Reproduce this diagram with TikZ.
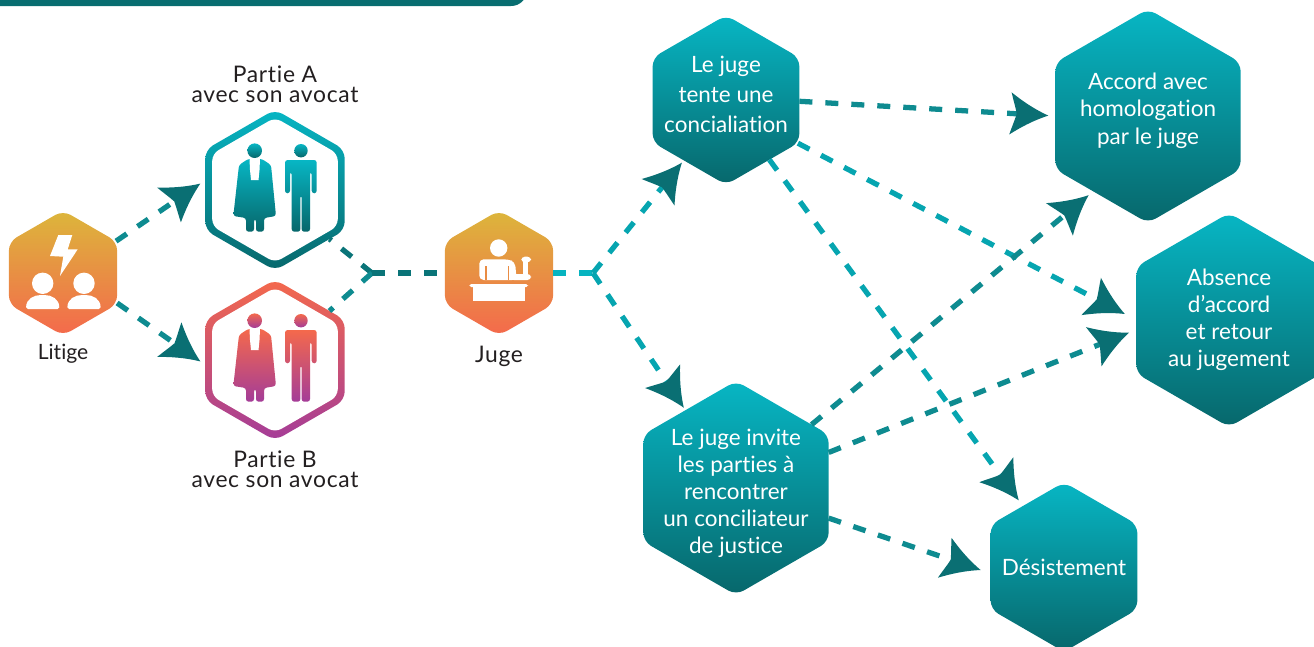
\documentclass[tikz,border=0pt]{standalone}
\usepackage{fontspec}
\setmainfont[Ligatures=NoCommon]{Lato}
\newfontfamily\capfont[Ligatures=NoCommon,LetterSpace=3]{Lato}
\usetikzlibrary{arrows.meta,shapes.geometric}
\definecolor{bandteal}{HTML}{086D70}
\definecolor{tipteal}{HTML}{0A6F73}
\definecolor{linedark}{HTML}{0A7478}
\definecolor{linemid}{HTML}{0E8B90}
\definecolor{linecyan}{HTML}{06A5B0}
\definecolor{linebright}{HTML}{06B4C0}
\definecolor{inkdark}{HTML}{231F20}
\definecolor{tealtop}{HTML}{07B6C4}
\definecolor{tealbot}{HTML}{07676B}
\definecolor{goldtop}{HTML}{DCB63B}
\definecolor{coralbot}{HTML}{F4694C}
\definecolor{plumbot}{HTML}{A43C98}
\pgfdeclarearrow{
  name=Swoosh,
  setup code={
    \pgfarrowssettipend{0pt}
    \pgfarrowssetlineend{-16pt}
    \pgfarrowssetvisualbackend{-21pt}
  },
  drawing code={
    \pgfsetfillcolor{tipteal}
    \pgfpathmoveto{\pgfpoint{0pt}{0pt}}
    \pgfpathcurveto{\pgfpoint{-9pt}{3.5pt}}{\pgfpoint{-16pt}{8pt}}{\pgfpoint{-21.6pt}{12pt}}
    \pgfpathcurveto{\pgfpoint{-20.5pt}{8pt}}{\pgfpoint{-19pt}{4pt}}{\pgfpoint{-18pt}{0pt}}
    \pgfpathcurveto{\pgfpoint{-19pt}{-4pt}}{\pgfpoint{-20.5pt}{-8pt}}{\pgfpoint{-21.6pt}{-12pt}}
    \pgfpathcurveto{\pgfpoint{-16pt}{-8pt}}{\pgfpoint{-9pt}{-3.5pt}}{\pgfpoint{0pt}{0pt}}
    \pgfpathclose
    \pgfusepathqfill
  },
}
\tikzset{
  duo/.pic={
    % avocat
    \path[#1] (-20.3,-39.3) circle[radius=7.3];
    \path[#1,rounded corners=1.5pt] (-36,-25) -- (-27,-31) -- (-13,-31) -- (-4,-25) -- (1,26) -- (-11,28) -- (-11,41.7) -- (-19,41.7) -- (-19,29) -- (-21,29) -- (-21,41.7) -- (-29,41.7) -- (-29,28) -- (-41.7,26) -- cycle;
    \fill[white] (-25.5,-31) -- (-15,-31) -- (-15.5,-20) -- (-16.5,-10) -- (-24,-10) -- (-25,-20) -- cycle;
    % partie
    \path[#1] (26,-39.3) circle[radius=6.7];
    \path[#1,rounded corners=1.5pt] (10,3.3) -- (10,-30) -- (41.7,-30) -- (41.7,3.3) -- (36.7,3.3) -- (36.7,-18) -- (35,-18) -- (35,41.7) -- (26.6,41.7) -- (26.6,5) -- (25.4,5) -- (25.4,41.7) -- (16.7,41.7) -- (16.7,-18) -- (15,-18) -- (15,3.3) -- cycle;
  }
}
\begin{document}
\begin{tikzpicture}[
    x=0.02cm,y=-0.02cm,
    hexbase/.style={regular polygon,regular polygon sides=6,shape border rotate=30,inner sep=0pt,outer sep=0pt,rounded corners=5pt},
    tealhex/.style={hexbase,top color=tealtop,bottom color=tealbot},
    goldhex/.style={hexbase,minimum size=2.5cm,top color=goldtop,bottom color=coralbot},
    tealshade/.style={top color=tealtop,bottom color=tealbot},
    plumshade/.style={top color=coralbot,bottom color=plumbot},
    whitehex/.style={hexbase,minimum size=2.9cm,fill=white,rounded corners=4pt},
    hextext/.style={font=\fontsize{12.8}{15.4}\selectfont,text=white,align=center,inner sep=0pt},
    caption/.style={font=\capfont\fontsize{13}{11.2}\selectfont,text=inkdark,align=center,inner sep=0pt},
    dashline/.style={line width=3pt,dash pattern=on 7.4pt off 7.4pt},
    arrow/.style={dashline,-{Swoosh}},
]
\useasboundingbox (0,0) rectangle (1314,646);

% Band
\fill[bandteal,rounded corners=9pt] (-30,-40) rectangle (527,6);

% Litige
\node[goldhex] (litige) at (63,273) {};
\node[caption,font=\fontsize{12}{12}\selectfont] (litigelabel) at (63,354) {Litige};

% Parties
\node[hexbase,minimum size=3.22cm,tealshade] (partieA) at (275,190) {};
\node[whitehex] (partieAin) at (275,190) {};
\node[hexbase,minimum size=3.22cm,plumshade] (partieB) at (275,360) {};
\node[whitehex] (partieBin) at (275,360) {};
\node[caption] (partieAlabel) at (275,84) {Partie A\\avec son avocat};
\node[caption] (partieBlabel) at (275,469) {Partie B\\avec son avocat};
\pic at (275,190) {duo=tealshade};
\pic at (275,360) {duo=plumshade};

% Juge
\node[goldhex] (juge) at (499,273) {};
\node[caption] (jugelabel) at (499,356) {Juge};

% Modes
\node[tealhex,minimum size=3.39cm,label={[hextext,font=\fontsize{12.8}{17}\selectfont,yshift=3pt]center:Le juge\\tente une\\concialiation}] (tente) at (726,100) {};
\node[tealhex,minimum size=4.28cm,label={[hextext,yshift=-3pt]center:Le juge invite\\les parties à\\rencontrer\\un conciliateur\\de justice}] (invite) at (736,488) {};

% Results
\node[tealhex,minimum size=4.28cm,label={[hextext,yshift=3pt]center:Accord avec\\homologation\\par le juge}] (accord) at (1148,116) {};
\node[tealhex,minimum size=4.28cm,label={[hextext]center:Absence\\d’accord\\et retour\\au jugement}] (absence) at (1229,320) {};
\node[tealhex,minimum size=3.39cm,label={[hextext]center:Désistement}] (desist) at (1064,567) {};

% Icons
\fill[white] (58.3,235) -- (72.3,235) -- (67.7,249.3) -- (77.7,249.3) -- (60,276) -- (63.3,256.7) -- (50,256) -- cycle;
\foreach \cx in {42.7,84} {
  \fill[white] (\cx,283.3) circle[radius=10.7];
  \fill[white,rounded corners=1pt] (\cx-16.6,309) .. controls (\cx-16.6,299) and (\cx-9,295) .. (\cx,295) .. controls (\cx+9,295) and (\cx+16.6,299) .. (\cx+16.6,309) -- cycle;
}
\fill[white] (498.7,248) circle[radius=8.7];
\fill[white,rounded corners=2.5pt] (479.3,280) -- (479.3,259.3) -- (508.3,259.3) -- (515,262) -- (516.7,280) -- cycle;
\fill[white,rounded corners=2pt] (510,274) rectangle (531,280);
\fill[white] (523.3,260) rectangle (527.7,276);
\fill[white,rounded corners=2pt] (521.3,256.7) rectangle (531,262.3);
\draw[goldtop!45!coralbot,line width=0.8pt] (486,266) -- (486,280) (508.5,266) -- (508.5,280);
\fill[white,rounded corners=1pt] (469.3,284) rectangle (528,287);
\fill[white] (472.7,287) rectangle (524.7,301);

% Junctions
\coordinate (joinL) at (372,273);
\coordinate (joinR) at (593,273);

% Arrows
\draw[arrow,linemid,shorten >=3.4pt] (litige.31) -- (partieA.172);
\draw[arrow,linemid,shorten >=3.4pt] (litige.-29) -- (partieB.184);
\draw[dashline,linedark] (joinL) -- (partieA.-42);
\draw[dashline,linemid] (joinL) -- (partieB.42);
\draw[dashline,linedark] (joinL) -- (juge.180);
\draw[dashline,linebright] (juge.0) -- (joinR);
\draw[arrow,linecyan,shorten >=1.7pt] (joinR) -- (tente.235);
\draw[arrow,linecyan,shorten >=1.7pt] (joinR) -- (invite.123);
\draw[arrow,linemid,shorten >=4pt] (tente.-1) -- (accord.180);
\draw[arrow,linecyan,shorten >=7.4pt] (tente.-31) -- (absence.180);
\draw[arrow,linecyan,shorten >=4pt] (tente.-54) -- (desist.124);
\draw[arrow,linemid,shorten >=3.4pt] (invite.40) -- (accord.234);
\draw[arrow,linemid,shorten >=4.5pt] (invite.21) -- (absence.186);
\draw[arrow,linemid,shorten >=6pt] (invite.-18) -- (desist.185);
\end{tikzpicture}
\end{document}
